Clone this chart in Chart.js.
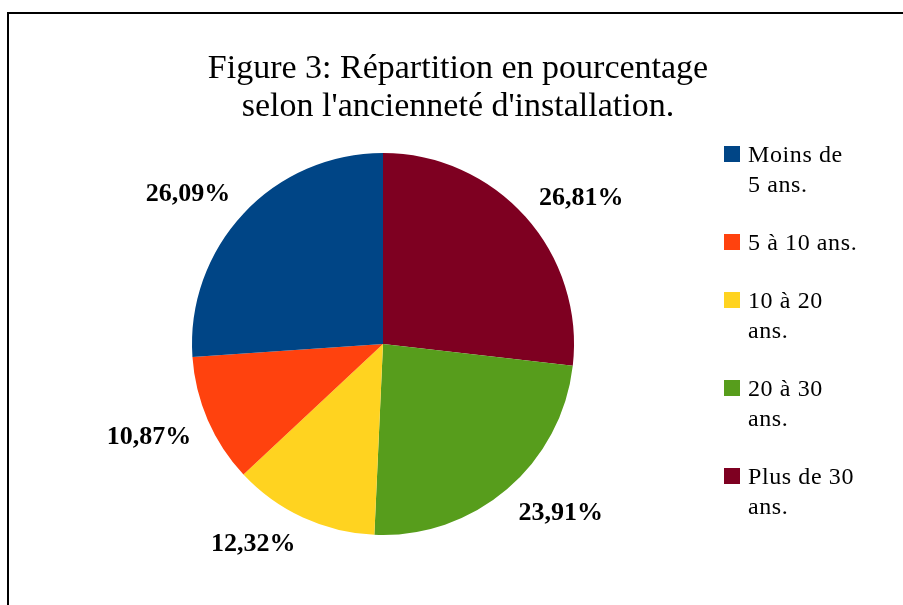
<!DOCTYPE html>
<html lang="fr">
<head>
<meta charset="utf-8">
<title>Figure 3</title>
<script src="https://cdn.jsdelivr.net/npm/chart.js@4.4.1/dist/chart.umd.min.js"></script>
<style>
	html, body { margin: 0; padding: 0; background: #fff; }
	#cadre { position: relative; width: 903px; height: 605px; overflow: hidden; font-family: "Liberation Serif", "Times New Roman", serif; color: #000; }
	#bordure { position: absolute; left: 7px; top: 12px; width: 920px; height: 620px; border-left: 2px solid #000; border-top: 2px solid #000; }
	#titre { position: absolute; left: 0; top: 48px; width: 916px; text-align: center; font-size: 34px; line-height: 38px; }
	#graficoPie { position: absolute; left: 0; top: 0; }
	#legende { position: absolute; left: 724px; top: 139px; font-size: 24px; line-height: 30px; letter-spacing: 0.6px; }
	.item { position: relative; padding-left: 24px; margin-bottom: 28px; white-space: nowrap; }
	.item .carre { position: absolute; left: 0; top: 7px; width: 16px; height: 16px; }
</style>
</head>
<body>
<div id="cadre">
	<div id="bordure"></div>
	<canvas id="graficoPie" width="903" height="605"></canvas>
	<div id="titre"></div>
	<div id="legende"></div>
</div>
<script>
/* Données du graphique */
var titreLignes = ['Figure 3: Répartition en pourcentage', "selon l'ancienneté d'installation."];
var categories = [['Moins de', '5 ans.'], ['5 à 10 ans.'], ['10 à 20', 'ans.'], ['20 à 30', 'ans.'], ['Plus de 30', 'ans.']];
var pourcentages = [26.09, 10.87, 12.32, 23.91, 26.81];
var couleurs = ['#004586', '#ff420e', '#ffd320', '#579d1c', '#7e0021'];

/* Étiquettes de pourcentage à l'extérieur du camembert */
var etiquettesPourcentage = {
	id: 'etiquettesPourcentage',
	afterDatasetsDraw: function(chart) {
		var ctx = chart.ctx;
		var meta = chart.getDatasetMeta(0);
		var valeurs = chart.data.datasets[0].data;
		var taille = 26;
		ctx.save();
		ctx.font = 'bold ' + taille + 'px "Liberation Serif"';
		ctx.fillStyle = '#000';
		ctx.textAlign = 'left';
		ctx.textBaseline = 'alphabetic';
		meta.data.forEach(function(arc, i) {
			var p = arc.getProps(['x', 'y', 'startAngle', 'endAngle', 'outerRadius'], true);
			var milieu = (p.startAngle + p.endAngle) / 2;
			var ux = Math.cos(milieu), uy = Math.sin(milieu);
			var ax = p.x + ux * (p.outerRadius + 18);
			var ay = p.y + uy * (p.outerRadius + 18);
			var texte = valeurs[i].toFixed(2).replace('.', ',') + '%';
			var largeur = ctx.measureText(texte).width;
			var hauteur = taille * 0.66;
			var gauche = ux >= 0 ? ax : ax - largeur;
			var base = uy >= 0 ? ay + hauteur : ay;
			ctx.fillText(texte, gauche, base);
		});
		ctx.restore();
	}
};

function dessiner() {
	document.getElementById('titre').innerHTML = titreLignes.join('<br>');

	var legende = document.getElementById('legende');
	categories.forEach(function(lignes, i) {
		var item = document.createElement('div');
		item.className = 'item';
		var carre = document.createElement('span');
		carre.className = 'carre';
		carre.style.background = couleurs[i];
		item.appendChild(carre);
		lignes.forEach(function(l, j) {
			if (j > 0) item.appendChild(document.createElement('br'));
			item.appendChild(document.createTextNode(l));
		});
		legende.appendChild(item);
	});

	// LibreOffice tourne dans le sens antihoraire : on inverse l'ordre pour Chart.js
	var grafico = new Chart(document.getElementById('graficoPie').getContext('2d'), {
		type: 'pie',
		data: {
			labels: categories.slice().reverse().map(function(l) { return l.join(' '); }),
			datasets: [{
				data: pourcentages.slice().reverse(),
				backgroundColor: couleurs.slice().reverse(),
				borderWidth: 0,
				hoverOffset: 0
			}]
		},
		options: {
			responsive: false,
			animation: false,
			events: [],
			layout: { padding: { left: 192, right: 329, top: 153, bottom: 70 } },
			plugins: {
				legend: { display: false },
				title: { display: false },
				tooltip: { enabled: false }
			}
		},
		plugins: [etiquettesPourcentage]
	});
}

if (document.fonts && document.fonts.load) {
	document.fonts.load('bold 26px "Liberation Serif"').then(dessiner, dessiner);
} else {
	dessiner();
}
</script>
</body>
</html>
